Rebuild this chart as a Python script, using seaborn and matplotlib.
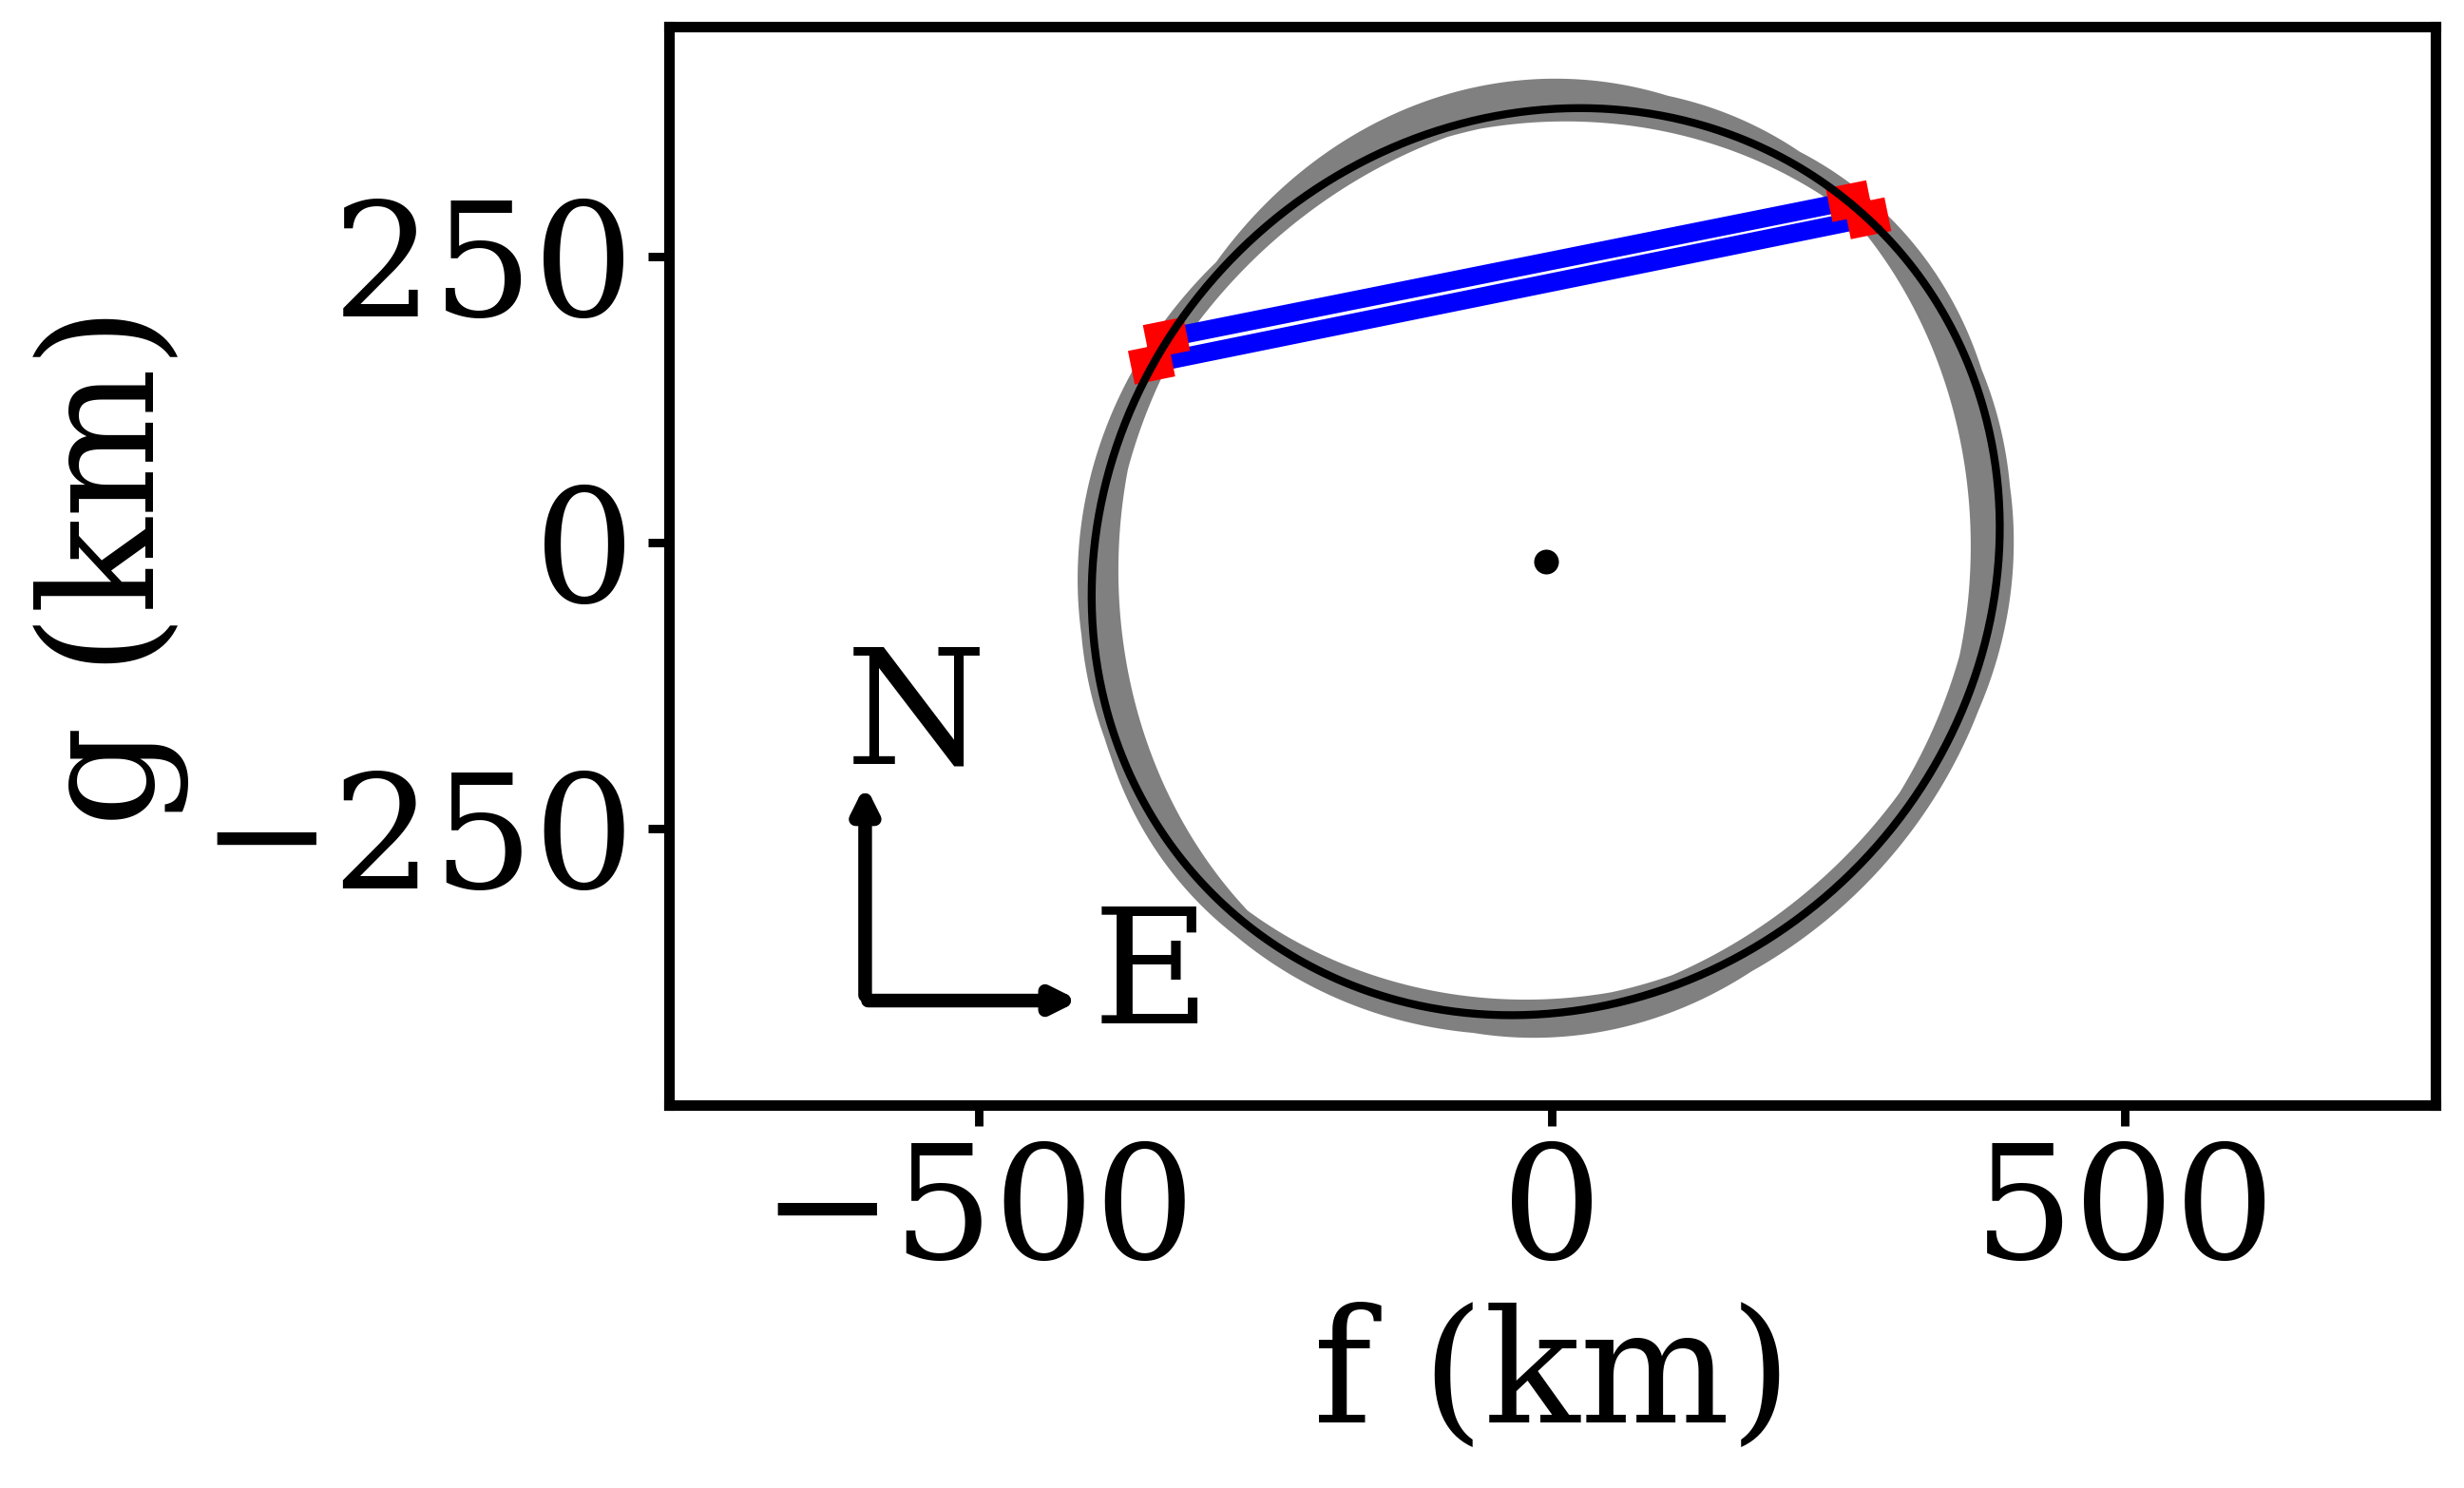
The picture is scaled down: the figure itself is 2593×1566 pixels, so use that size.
import numpy as np
import pandas as pd
import matplotlib
matplotlib.use("Agg")
import matplotlib.pyplot as plt
from matplotlib.path import Path
from matplotlib.patches import PathPatch
import seaborn as sns

# ---------------- data (km / degrees) ----------------
# best-fitting ellipse
fit_center_f = -5.0
fit_center_g = -17.0
fit_semi_major = 411.0
fit_semi_minor = 381.0
fit_angle = 45.0

# solutions within the uncertainty region (grey band)
sol_center_f = [-5.0, -6.0, -5.0, -5.0, -3.0, -5.0, -6.0]
sol_center_g = [-17.0, -14.0, -16.0, -17.0, -26.0, -16.0, -15.0]
sol_semi_major = [411.0, 419.5, 411.0, 425.0, 419.0, 416.0, 421.0]
sol_semi_minor = [381.0, 371.4, 381.0, 367.0, 389.0, 377.0, 370.0]
sol_angle = [45.0, 84.0, 17.0, 45.0, 45.0, 30.0, 65.0]

# chords (immersion -> emersion)
chord_names = ["chord 1", "chord 2"]
chord_start_f = [-336.0, -349.0]
chord_start_g = [178.5, 156.0]
chord_end_f = [260.0, 276.0]
chord_end_g = [298.0, 283.0]
chord_err_km = [18.0, 18.0]

x_ticks = [-500, 0, 500]
y_ticks = [-250, 0, 250]
x_label = "f (km)"
y_label = "g (km)"

# ---------------- style ----------------
sns.set_theme(style="ticks")
plt.rcParams["font.family"] = ["DejaVu Serif"]
plt.rcParams.update({
    "axes.edgecolor": "black", "text.color": "black", "axes.labelcolor": "black",
    "xtick.color": "black", "ytick.color": "black", "axes.facecolor": "white",
})

DPI = 400
fig = plt.figure(figsize=(2593 / DPI, 1566 / DPI), dpi=DPI)
ax = fig.add_axes([704 / 2593, 1 - 1163 / 1566, (2563 - 704) / 2593, (1163 - 28) / 1566])


def ellipse_xy(cx, cy, a, b, ang, n=721):
    t = np.linspace(0, 2 * np.pi, n)
    th = np.deg2rad(ang)
    x = cx + a * np.cos(t) * np.cos(th) - b * np.sin(t) * np.sin(th)
    y = cy + a * np.cos(t) * np.sin(th) + b * np.sin(t) * np.cos(th)
    return x, y


def ray_radius(cx, cy, a, b, ang, x0, y0, phi):
    th = np.deg2rad(ang)
    c, s = np.cos(th), np.sin(th)
    dx, dy = x0 - cx, y0 - cy
    q0x, q0y = dx * c + dy * s, -dx * s + dy * c
    ex, ey = np.cos(phi) * c + np.sin(phi) * s, -np.cos(phi) * s + np.sin(phi) * c
    A = ex ** 2 / a ** 2 + ey ** 2 / b ** 2
    B = 2 * (q0x * ex / a ** 2 + q0y * ey / b ** 2)
    C = q0x ** 2 / a ** 2 + q0y ** 2 / b ** 2 - 1
    return (-B + np.sqrt(B ** 2 - 4 * A * C)) / (2 * A)


# ---- grey uncertainty band: envelope of the solutions ----
phi = np.linspace(0, 2 * np.pi, 1441)
radii = np.array([
    ray_radius(cf, cg, a, b, an, fit_center_f, fit_center_g, phi)
    for cf, cg, a, b, an in zip(sol_center_f, sol_center_g, sol_semi_major, sol_semi_minor, sol_angle)
])
r_out, r_in = radii.max(axis=0), radii.min(axis=0)
xo = fit_center_f + r_out * np.cos(phi)
yo = fit_center_g + r_out * np.sin(phi)
xi = (fit_center_f + r_in * np.cos(phi))[::-1]
yi = (fit_center_g + r_in * np.sin(phi))[::-1]
verts = np.concatenate([np.column_stack([xo, yo]), np.column_stack([xi, yi])])
codes = np.full(len(verts), Path.LINETO)
codes[0] = Path.MOVETO
codes[len(xo)] = Path.MOVETO
band = PathPatch(Path(verts, codes), facecolor="#808080", edgecolor="none", zorder=1)
ax.add_patch(band)

# ---- chords ----
chord_df = pd.DataFrame({
    "chord": np.repeat(chord_names, 2),
    "f": np.ravel(np.column_stack([chord_start_f, chord_end_f])),
    "g": np.ravel(np.column_stack([chord_start_g, chord_end_g])),
})
sns.lineplot(data=chord_df, x="f", y="g", units="chord", estimator=None, sort=False,
             color="blue", lw=3.5, ax=ax, zorder=2, legend=False)

# ---- red error bars at chord ends ----
for sf, sg, ef, eg, err in zip(chord_start_f, chord_start_g, chord_end_f, chord_end_g, chord_err_km):
    d = np.array([ef - sf, eg - sg])
    u = d / np.hypot(*d)
    for pf, pg in ((sf, sg), (ef, eg)):
        ax.plot([pf - err * u[0], pf + err * u[0]], [pg - err * u[1], pg + err * u[1]],
                color="red", lw=6.5, solid_capstyle="butt", zorder=3)

# ---- best-fit ellipse and centre ----
ex, ey = ellipse_xy(fit_center_f, fit_center_g, fit_semi_major, fit_semi_minor, fit_angle)
sns.lineplot(x=ex, y=ey, sort=False, estimator=None, color="black", lw=1.5, ax=ax, zorder=4)
sns.scatterplot(x=[fit_center_f], y=[fit_center_g], color="black", s=22, linewidth=0, ax=ax, zorder=5)

# ---- N / E compass ----
arrow_kw = dict(arrowstyle="-|>", color="black", lw=2.6, mutation_scale=9, shrinkA=0, shrinkB=0)
ax.annotate("", xy=(-599, -212), xytext=(-599, -396), arrowprops=arrow_kw)
ax.annotate("", xy=(-412, -400.5), xytext=(-596.5, -400.5), arrowprops=arrow_kw)
ax.text(-616, -193.7, "N", fontsize=30.5, ha="left", va="baseline")
ax.text(-401, -420.7, "E", fontsize=30.5, ha="left", va="baseline")

# ---- axes ----
ax.set_xlim(-770.2, 771.6)
ax.set_ylim(-491.8, 450.5)
ax.set_xticks(x_ticks)
ax.set_yticks(y_ticks)
ax.set_xlabel(x_label, fontsize=30, labelpad=2)
ax.set_ylabel(y_label, fontsize=30, labelpad=2)
ax.tick_params(labelsize=30, length=4, width=1.6, pad=2.5, direction="out")
for sp in ax.spines.values():
    sp.set_linewidth(2.0)
    sp.set_color("black")
    sp.set_visible(True)

fig.savefig("out.png", dpi=DPI)
